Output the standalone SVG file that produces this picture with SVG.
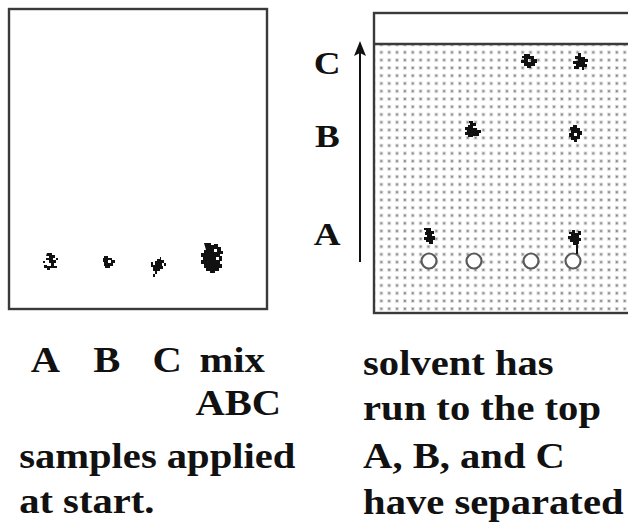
<svg xmlns="http://www.w3.org/2000/svg" width="628" height="522" viewBox="0 0 628 522">
  <style>
    .frame { stroke: #3a3a3a; stroke-width: 2.4; }
    .lbl { font-family: Liberation Serif, DejaVu Serif, serif; font-weight: bold; fill: #111; }
    .big { font-size: 35px; }
    .mid { font-size: 32px; }
    .spot { fill: #111; }
    .ring { fill: #fff; stroke: #5a5a5a; stroke-width: 2.2; }
  </style>
  <defs>
    <!-- stippled solvent front fill -->
    <pattern id="stipple" x="379.5" y="50.5" width="7.85" height="7.77" patternUnits="userSpaceOnUse">
      <rect x="0" y="0" width="3.6" height="3.6" fill="#d4d4d4"/>
      <rect x="1" y="1" width="1.7" height="1.7" fill="#7a7a7a"/>
    </pattern>
  </defs>

  <rect width="628" height="522" fill="#fff"/>

  <!-- starting plate -->
  <g id="plate-start">
    <rect class="frame" x="9" y="9" width="258" height="300" fill="#fff"/>
    <!-- sample A -->
    <path class="spot" d="M47 253h5v2h3v3h-2v2h3v3h-2v3h3v2h-7v2h-3v-2h-3v-3h3v1h4v-3h-2v-3h-3v-2h3v-2h-3z M43 261h2v2h-2z M56 258h2v2h-2z"/>
    <!-- sample B -->
    <path class="spot" d="M104 256h4v2h4v2h3v3h-2v3h-3v2h-5v-2h-1v-4h-1v-4h1z M108 260v3h3v-3z"/>
    <!-- sample C -->
    <path class="spot" d="M158 257h3v3h3v3h2v3h-3v3h-3v2h-3v3h-2v3h-2v-3h2v-3h-2v-4h-2v-5h2v3h2v-4h2v-2h3v-2h-2z M162 263v3h2v-3z"/>
    <!-- mixture ABC -->
    <path class="spot" d="M204 243h7v2h3v-1h4v3h3v4h2v3h-3v2h2v5h-2v3h2v4h-3v3h-4v2h-5v-2h-4v-3h-2v-4h-3v-4h2v-3h-2v-4h3v-3h2z M214 249v3h3v-3z M216 257v3h3v-3z"/>
  </g>

  <!-- developed plate -->
  <g id="plate-developed">
    <rect x="374" y="44" width="260" height="269" fill="url(#stipple)"/>
    <rect class="frame" x="374" y="13" width="260" height="300" fill="none"/>
    <line x1="374" y1="44" x2="628" y2="44" stroke="#3a3a3a" stroke-width="2.4"/>
    <!-- origin marks -->
    <circle class="ring" cx="429" cy="261" r="7.5"/>
    <circle class="ring" cx="474" cy="261" r="7.5"/>
    <circle class="ring" cx="531" cy="261" r="7.5"/>
    <circle class="ring" cx="573" cy="261" r="7.5"/>
    <!-- separated spots -->
    <path class="spot" d="M524 54h6v2h4v3h3v4h-2v3h-4v2h-4v-2h-3v-3h-3v-3h3v-2h-2v-2h2z M528 59v3h3v-3z"/>
    <path class="spot" d="M578 53h3v4h4v2h3v3h-3v2h2v3h-3v3h-2v-3h-3v2h-5v-3h2v-2h-3v-3h5v-2h-3v-3h3z"/>
    <path class="spot" d="M469 121h4v2h3v3h-3v2h4v2h4v3h-2v3h-6v1h-5v-2h-3v-3h2v-2h-2v-3h3v-2h2v-2h-1z"/>
    <path class="spot" d="M573 125h4v3h3v3h2v4h-2v4h-3v3h-3v-2h-3v-3h-2v-4h2v-3h-1v-3h3z M574 133v3h3v-3z"/>
    <path class="spot" d="M428 228h3v3h3v3h-2v2h3v4h-2v4h-4v-2h-3v-2h-2v-3h3v-2h-2v-3h1v-2h-2v-2h4z"/>
    <path class="spot" d="M572 230h3v3h3v-2h3v4h-2v3h2v3h-2v3h-1v10h-2v-9h-3v-3h-3v-3h-2v-3h3v-2h-2v-2h3z"/>
  </g>

  <!-- solvent direction -->
  <g id="solvent-arrow">
    <line x1="360" y1="52" x2="360" y2="262" stroke="#111" stroke-width="2"/>
    <path d="M360 41 L366 56 L360 53 L354 56 Z" fill="#111"/>
  </g>

  <!-- spot labels beside developed plate -->
  <g id="rf-labels" class="lbl mid" font-family="Liberation Serif, serif" transform="scale(1.16 1)">
    <text x="270.5" y="74">C</text>
    <text x="271.5" y="147">B</text>
    <text x="270.5" y="245">A</text>
  </g>

  <!-- captions -->
  <g id="caption-start" class="lbl big" font-family="Liberation Serif, serif" transform="scale(1.16 1)">
    <text x="26.5" y="372">A</text>
    <text x="80.5" y="372">B</text>
    <text x="131.5" y="372">C</text>
    <text x="172" y="372">mix</text>
    <text x="168.5" y="415">ABC</text>
    <text x="16.5" y="468">samples applied</text>
    <text x="16.5" y="513">at start.</text>
  </g>
  <g id="caption-developed" class="lbl big" font-family="Liberation Serif, serif" transform="scale(1.16 1)">
    <text x="313" y="375">solvent has</text>
    <text x="313" y="420">run to the top</text>
    <text x="313" y="468">A, B, and C</text>
    <text x="313" y="514">have separated</text>
  </g>
</svg>
